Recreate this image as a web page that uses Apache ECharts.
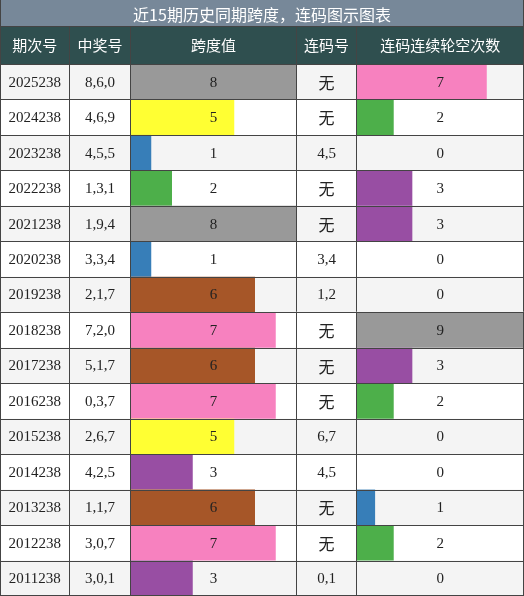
<!DOCTYPE html>
<html><head><meta charset="utf-8">
<script src="https://cdn.jsdelivr.net/npm/echarts@6/dist/echarts.min.js"></script>
<style>html,body{margin:0;padding:0;background:#fff}#c{width:524px;height:596px}</style>
</head><body><div id="c"></div>
<script>
const title = '近15期历史同期跨度，连码图示图表';
const headers = ['期次号','中奖号','跨度值','连码号','连码连续轮空次数'];
const periods = ['2025238','2024238','2023238','2022238','2021238','2020238','2019238','2018238','2017238','2016238','2015238','2014238','2013238','2012238','2011238'];
const numbers = ['8,6,0','4,6,9','4,5,5','1,3,1','1,9,4','3,3,4','2,1,7','7,2,0','5,1,7','0,3,7','2,6,7','4,2,5','1,1,7','3,0,7','3,0,1'];
const spans = [8,5,1,2,8,1,6,7,6,7,5,3,6,7,3];
const consec = ['无','无','4,5','无','无','3,4','1,2','无','无','无','6,7','4,5','无','无','0,1'];
const gaps = [7,2,0,3,3,0,0,9,3,2,0,0,1,2,0];

const palette = {1:'#377eb8',2:'#4daf4a',3:'#984ea3',4:'#ff7f00',5:'#ffff33',6:'#a65628',7:'#f781bf',8:'#999999',9:'#999999'};
const W=524, titleH=27, headTop=27, headH=37, tTop=64, H=596-64, n=periods.length, rh=H/n;
const cols=[0,69.5,130.5,296.5,356.5,524];
const serif='"Liberation Serif","DejaVu Serif",serif';
const cjk='"Noto Sans CJK SC",sans-serif';
const g=[];
g.push({type:'rect',shape:{x:0,y:0,width:W,height:titleH},style:{fill:'#778899'},z:0});
g.push({type:'text',style:{text:title,x:W/2,y:titleH/2+1,align:'center',verticalAlign:'middle',fill:'#fff',font:'16px '+cjk},z:5});
g.push({type:'rect',shape:{x:0,y:headTop,width:W,height:headH},style:{fill:'#2f4f4f'},z:0});
headers.forEach((h,j)=>g.push({type:'text',style:{text:h,x:(cols[j]+cols[j+1])/2,y:headTop+headH/2,align:'center',verticalAlign:'middle',fill:'#fff',font:'15px '+cjk},z:5}));
for(let i=0;i<n;i++){
  const y=tTop+i*rh;
  g.push({type:'rect',shape:{x:0,y:y,width:W,height:rh},style:{fill:i%2===0?'#f4f4f4':'#ffffff'},z:-10});
  const cy=y+rh/2;
  const vals=[periods[i],numbers[i],String(spans[i]),consec[i],String(gaps[i])];
  vals.forEach((v,j)=>g.push({type:'text',style:{text:v,x:(cols[j]+cols[j+1])/2,y:cy+1,align:'center',verticalAlign:'middle',fill:'#222',font:(v==='无'?'16px '+cjk:'15px '+serif)},z:20}));
  g.push({type:'line',shape:{x1:0,y1:Math.round(y)+0.5,x2:W,y2:Math.round(y)+0.5},style:{stroke:'#444',lineWidth:1},z:15});
}
g.push({type:'line',shape:{x1:0,y1:595.5,x2:W,y2:595.5},style:{stroke:'#444',lineWidth:1},z:15});
g.push({type:'line',shape:{x1:0,y1:26.5,x2:W,y2:26.5},style:{stroke:'#444',lineWidth:1},z:15});
cols.forEach((x,j)=>{const xx=j===0?0.5:(j===cols.length-1?523.5:x);g.push({type:'line',shape:{x1:xx,y1:headTop,x2:xx,y2:596},style:{stroke:'#444',lineWidth:1},z:15});});
g.push({type:'line',shape:{x1:0.5,y1:0,x2:0.5,y2:27},style:{stroke:'#444',lineWidth:1},z:15});
g.push({type:'line',shape:{x1:523.5,y1:0,x2:523.5,y2:27},style:{stroke:'#444',lineWidth:1},z:15});

const cats=periods.map((p,i)=>i);
function ax(gi,max){return {gridIndex:gi,type:'value',min:0,max:max,show:false};}
function ay(gi){return {gridIndex:gi,type:'category',data:cats,inverse:true,show:false};}
const chart=echarts.init(document.getElementById('c'),null,{renderer:'canvas'});
chart.setOption({
  animation:false,
  grid:[{left:cols[2],top:tTop,width:cols[3]-cols[2],height:H},{left:cols[4],top:tTop,width:cols[5]-cols[4],height:H}],
  xAxis:[ax(0,8),ax(1,9)],
  yAxis:[ay(0),ay(1)],
  series:[
    {type:'bar',xAxisIndex:0,yAxisIndex:0,barCategoryGap:0,data:spans.map(v=>({value:v,itemStyle:{color:palette[v]}})),z:2},
    {type:'bar',xAxisIndex:1,yAxisIndex:1,barCategoryGap:0,data:gaps.map(v=>({value:v,itemStyle:{color:v?palette[v]:'transparent'}})),z:2}
  ],
  graphic:g
});
</script></body></html>
